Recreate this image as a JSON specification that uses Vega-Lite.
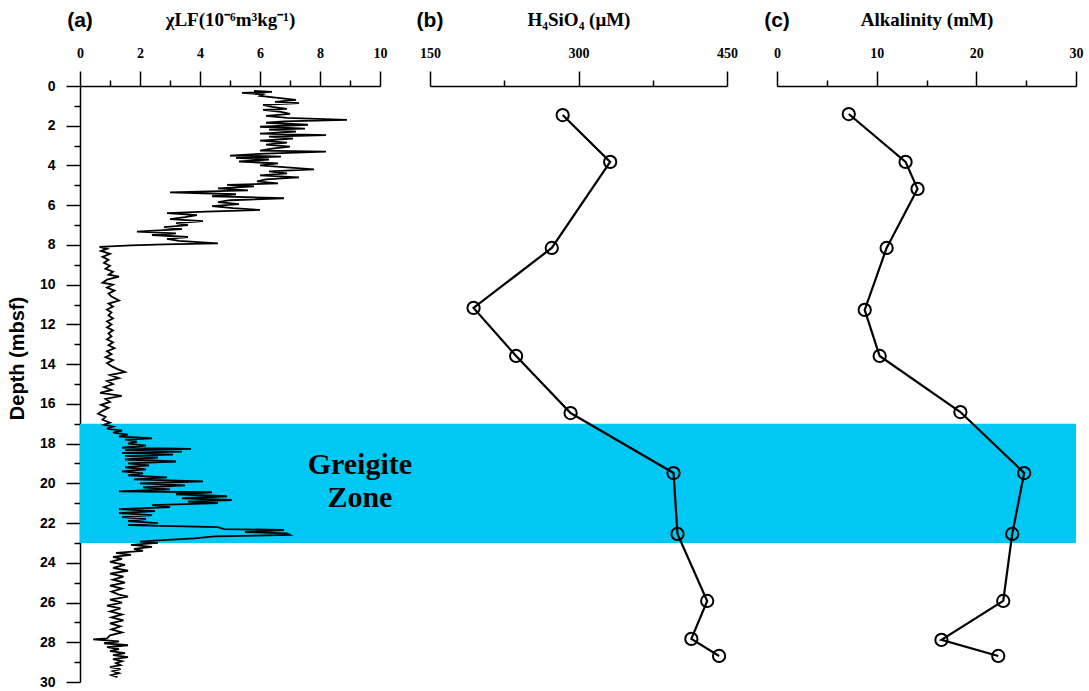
{
  "$schema": "https://vega.github.io/schema/vega-lite/v6.json",
  "autosize": {"type": "none"},
  "padding": {"left": 80, "top": 86, "right": 13, "bottom": 9},
  "width": 996,
  "height": 596,
  "background": "white",
  "config": {
    "view": {"stroke": null},
    "axisX": {"domainColor": "black", "domainWidth": 1.5, "tickColor": "black", "tickWidth": 1.5, "labelFont": "Liberation Serif", "labelFontWeight": "bold", "labelFontSize": 14, "labelColor": "black", "titleFont": "Liberation Serif", "titleFontWeight": "bold", "titleFontSize": 19, "titleColor": "black", "grid": false, "labelPadding": 11, "titlePadding": 17, "labelFlush": false, "labelOverlap": false},
    "axisY": {"domainColor": "black", "domainWidth": 1.5, "tickColor": "black", "tickWidth": 1.5, "labelFont": "Liberation Sans", "labelFontWeight": "bold", "labelFontSize": 14, "labelColor": "black", "titleFont": "Liberation Sans", "titleFontWeight": "bold", "titleFontSize": 20, "titleColor": "black", "grid": false, "labelPadding": 11, "titlePadding": 12, "labelOverlap": false, "labelFlush": false}
  },
  "datasets": {
    "chi": [
      {"depth":0.25,"chi":5.8},{"depth":0.3,"chi":6.4},{"depth":0.35,"chi":5.4},{"depth":0.42,"chi":6.1},{"depth":0.5,"chi":6.0},{"depth":0.6,"chi":6.6},{"depth":0.7,"chi":7.2},{"depth":0.8,"chi":6.5},{"depth":0.86,"chi":7.3},{"depth":0.95,"chi":6.1},
      {"depth":1.05,"chi":6.4},{"depth":1.15,"chi":6.9},{"depth":1.2,"chi":6.1},{"depth":1.3,"chi":6.7},{"depth":1.4,"chi":7.0},{"depth":1.5,"chi":6.2},{"depth":1.6,"chi":6.9},{"depth":1.71,"chi":8.9},{"depth":1.78,"chi":6.8},{"depth":1.85,"chi":6.2},
      {"depth":1.95,"chi":7.6},{"depth":2.05,"chi":6.0},{"depth":2.15,"chi":7.5},{"depth":2.2,"chi":6.3},{"depth":2.3,"chi":7.2},{"depth":2.4,"chi":6.0},{"depth":2.47,"chi":8.2},{"depth":2.55,"chi":6.3},{"depth":2.65,"chi":7.1},{"depth":2.75,"chi":6.0},
      {"depth":2.85,"chi":6.9},{"depth":2.95,"chi":6.2},{"depth":3.05,"chi":7.0},{"depth":3.15,"chi":6.4},{"depth":3.25,"chi":6.0},{"depth":3.3,"chi":8.2},{"depth":3.4,"chi":6.2},{"depth":3.5,"chi":5.0},{"depth":3.55,"chi":6.7},{"depth":3.62,"chi":5.2},
      {"depth":3.7,"chi":6.3},{"depth":3.8,"chi":5.3},{"depth":3.9,"chi":6.6},{"depth":4.0,"chi":6.0},{"depth":4.1,"chi":6.9},{"depth":4.2,"chi":7.8},{"depth":4.3,"chi":6.3},{"depth":4.4,"chi":6.9},{"depth":4.5,"chi":6.0},{"depth":4.6,"chi":7.3},
      {"depth":4.7,"chi":6.2},{"depth":4.8,"chi":5.9},{"depth":4.9,"chi":6.6},{"depth":4.98,"chi":4.9},{"depth":5.05,"chi":5.8},{"depth":5.15,"chi":4.6},{"depth":5.25,"chi":5.6},{"depth":5.35,"chi":3.0},{"depth":5.45,"chi":5.2},{"depth":5.55,"chi":4.4},
      {"depth":5.65,"chi":6.8},{"depth":5.75,"chi":5.0},{"depth":5.85,"chi":4.6},{"depth":5.95,"chi":5.3},{"depth":6.05,"chi":4.4},{"depth":6.15,"chi":5.1},{"depth":6.24,"chi":6.0},{"depth":6.32,"chi":4.2},{"depth":6.4,"chi":2.9},{"depth":6.5,"chi":3.9},
      {"depth":6.6,"chi":3.5},{"depth":6.7,"chi":3.0},{"depth":6.8,"chi":4.1},{"depth":6.9,"chi":3.2},{"depth":7.0,"chi":3.6},{"depth":7.1,"chi":2.8},{"depth":7.2,"chi":3.4},{"depth":7.33,"chi":1.9},{"depth":7.42,"chi":3.2},{"depth":7.5,"chi":2.4},
      {"depth":7.6,"chi":3.6},{"depth":7.7,"chi":2.9},{"depth":7.8,"chi":3.3},{"depth":7.92,"chi":4.6},{"depth":7.97,"chi":2.8},{"depth":8.02,"chi":1.7},{"depth":8.1,"chi":0.65},{"depth":8.2,"chi":0.9},
      {"depth":8.3,"chi":0.7},{"depth":8.45,"chi":1.0},{"depth":8.6,"chi":0.75},{"depth":8.75,"chi":0.95},{"depth":8.9,"chi":0.8},{"depth":9.05,"chi":1.0},{"depth":9.2,"chi":0.85},{"depth":9.35,"chi":1.1},{"depth":9.5,"chi":0.95},{"depth":9.6,"chi":1.3},
      {"depth":9.75,"chi":0.9},{"depth":9.9,"chi":0.75},{"depth":10.0,"chi":1.1},{"depth":10.15,"chi":0.9},{"depth":10.3,"chi":1.15},{"depth":10.45,"chi":0.95},{"depth":10.6,"chi":1.05},{"depth":10.8,"chi":1.3},{"depth":10.95,"chi":0.95},{"depth":11.1,"chi":1.1},
      {"depth":11.25,"chi":0.9},{"depth":11.4,"chi":1.05},{"depth":11.55,"chi":0.95},{"depth":11.7,"chi":1.1},{"depth":11.85,"chi":0.9},{"depth":12.0,"chi":1.05},{"depth":12.15,"chi":0.9},{"depth":12.3,"chi":1.1},{"depth":12.45,"chi":0.95},{"depth":12.6,"chi":1.05},
      {"depth":12.75,"chi":0.9},{"depth":12.9,"chi":1.1},{"depth":13.05,"chi":0.95},{"depth":13.2,"chi":1.15},{"depth":13.35,"chi":0.9},{"depth":13.5,"chi":1.05},{"depth":13.65,"chi":0.85},{"depth":13.8,"chi":1.1},{"depth":13.95,"chi":0.9},{"depth":14.1,"chi":1.05},
      {"depth":14.25,"chi":1.25},{"depth":14.4,"chi":1.5},{"depth":14.55,"chi":1.0},{"depth":14.7,"chi":1.3},{"depth":14.85,"chi":0.9},{"depth":15.0,"chi":1.1},{"depth":15.15,"chi":0.8},{"depth":15.3,"chi":1.05},{"depth":15.45,"chi":0.67},{"depth":15.6,"chi":1.39},
      {"depth":15.75,"chi":0.85},{"depth":15.9,"chi":1.0},{"depth":16.05,"chi":0.7},{"depth":16.2,"chi":0.95},{"depth":16.35,"chi":0.75},{"depth":16.5,"chi":0.6},{"depth":16.65,"chi":0.85},{"depth":16.8,"chi":0.75},{"depth":16.95,"chi":1.0},
      {"depth":17.05,"chi":0.8},{"depth":17.15,"chi":1.1},{"depth":17.25,"chi":0.9},{"depth":17.35,"chi":1.4},{"depth":17.45,"chi":1.1},{"depth":17.55,"chi":1.6},{"depth":17.65,"chi":1.3},{"depth":17.73,"chi":2.4},{"depth":17.8,"chi":1.5},{"depth":17.9,"chi":1.9},
      {"depth":18.0,"chi":1.6},{"depth":18.1,"chi":2.2},{"depth":18.2,"chi":1.4},{"depth":18.27,"chi":3.7},{"depth":18.33,"chi":1.5},{"depth":18.4,"chi":3.4},{"depth":18.47,"chi":1.4},{"depth":18.55,"chi":3.1},{"depth":18.62,"chi":1.5},{"depth":18.7,"chi":2.6},
      {"depth":18.8,"chi":1.5},{"depth":18.9,"chi":3.2},{"depth":19.0,"chi":1.6},{"depth":19.1,"chi":2.3},{"depth":19.2,"chi":1.5},{"depth":19.3,"chi":2.2},{"depth":19.4,"chi":1.4},{"depth":19.5,"chi":2.1},{"depth":19.6,"chi":1.6},{"depth":19.7,"chi":2.9},
      {"depth":19.8,"chi":1.8},{"depth":19.9,"chi":4.1},{"depth":20.0,"chi":2.0},{"depth":20.1,"chi":3.5},{"depth":20.2,"chi":2.1},{"depth":20.3,"chi":3.0},{"depth":20.4,"chi":1.3},{"depth":20.45,"chi":4.4},{"depth":20.55,"chi":3.2},{"depth":20.65,"chi":4.9},
      {"depth":20.75,"chi":3.4},{"depth":20.84,"chi":5.06},{"depth":20.92,"chi":3.6},{"depth":21.0,"chi":4.6},{"depth":21.1,"chi":2.4},{"depth":21.2,"chi":3.0},{"depth":21.3,"chi":1.3},{"depth":21.4,"chi":2.5},{"depth":21.5,"chi":1.3},{"depth":21.6,"chi":2.4},
      {"depth":21.7,"chi":1.4},{"depth":21.8,"chi":2.2},{"depth":21.9,"chi":1.6},{"depth":22.0,"chi":2.6},{"depth":22.1,"chi":1.6},{"depth":22.2,"chi":4.6},{"depth":22.3,"chi":4.8},{"depth":22.35,"chi":6.8},{"depth":22.45,"chi":5.5},{"depth":22.52,"chi":6.9},
      {"depth":22.6,"chi":7.0},{"depth":22.67,"chi":4.5},{"depth":22.77,"chi":3.8},{"depth":22.85,"chi":2.9},{"depth":22.93,"chi":2.0},{"depth":23.0,"chi":2.6},{"depth":23.1,"chi":1.7},{"depth":23.2,"chi":2.4},{"depth":23.3,"chi":1.8},{"depth":23.4,"chi":2.1},
      {"depth":23.5,"chi":1.2},{"depth":23.6,"chi":1.7},{"depth":23.7,"chi":1.1},{"depth":23.8,"chi":1.4},
      {"depth":23.95,"chi":1.0},{"depth":24.1,"chi":1.5},{"depth":24.25,"chi":1.1},{"depth":24.4,"chi":1.6},{"depth":24.55,"chi":1.0},{"depth":24.7,"chi":1.45},{"depth":24.85,"chi":1.1},{"depth":25.0,"chi":1.5},{"depth":25.15,"chi":1.0},{"depth":25.3,"chi":1.4},
      {"depth":25.45,"chi":1.05},{"depth":25.6,"chi":1.3},{"depth":25.7,"chi":1.6},{"depth":25.85,"chi":1.0},{"depth":26.0,"chi":1.4},{"depth":26.15,"chi":0.9},{"depth":26.3,"chi":1.35},{"depth":26.45,"chi":1.0},{"depth":26.6,"chi":1.4},{"depth":26.75,"chi":1.05},
      {"depth":26.9,"chi":1.45},{"depth":27.05,"chi":1.0},{"depth":27.2,"chi":1.35},{"depth":27.35,"chi":1.05},{"depth":27.5,"chi":1.4},{"depth":27.65,"chi":1.0},{"depth":27.8,"chi":0.9},{"depth":27.85,"chi":0.44},{"depth":27.95,"chi":1.3},{"depth":28.05,"chi":0.8},
      {"depth":28.15,"chi":1.6},{"depth":28.25,"chi":0.9},{"depth":28.35,"chi":1.3},{"depth":28.45,"chi":1.0},{"depth":28.55,"chi":1.5},{"depth":28.65,"chi":1.1},{"depth":28.75,"chi":1.6},{"depth":28.85,"chi":1.1},{"depth":28.95,"chi":1.4},{"depth":29.05,"chi":1.2},
      {"depth":29.15,"chi":1.35},{"depth":29.25,"chi":1.0},{"depth":29.35,"chi":1.35},{"depth":29.45,"chi":1.1},{"depth":29.55,"chi":1.3},{"depth":29.65,"chi":1.05},{"depth":29.75,"chi":1.25}
    ],
    "si": [
      {"depth":1.46,"si":284},{"depth":3.82,"si":332},{"depth":8.15,"si":273},{"depth":11.17,"si":194},{"depth":13.59,"si":237},{"depth":16.46,"si":292},{"depth":19.48,"si":396},{"depth":22.55,"si":400},{"depth":25.92,"si":430},{"depth":27.83,"si":414},{"depth":28.69,"si":442}
    ],
    "alk": [
      {"depth":1.41,"alk":7.2},{"depth":3.82,"alk":12.9},{"depth":5.18,"alk":14.1},{"depth":8.15,"alk":11.0},{"depth":11.27,"alk":8.8},{"depth":13.59,"alk":10.3},{"depth":16.41,"alk":18.4},{"depth":19.48,"alk":24.8},{"depth":22.55,"alk":23.6},{"depth":25.92,"alk":22.7},{"depth":27.88,"alk":16.5},{"depth":28.69,"alk":22.2}
    ],
    "zone": [{"name":"Greigite Zone","top":17,"bottom":23}],
    "one": [{"k": 1}]
  },
  "resolve": {"scale": {"x": "independent"}, "axis": {"x": "independent"}},
  "layer": [
    {
      "data": {"name": "zone"},
      "mark": {"type": "rect", "color": "#00c8f5"},
      "encoding": {
        "y": {"field": "top", "type": "quantitative", "title": "Depth (mbsf)", "scale": {"domain": [0, 30], "reverse": true, "nice": false, "zero": false},
              "axis": {"title": "Depth (mbsf)", "format": "d", "labelOverlap": false, "titleY": 272, "values": [0,1,2,3,4,5,6,7,8,9,10,11,12,13,14,15,16,17,18,19,20,21,22,23,24,25,26,27,28,29,30], "labelExpr": "datum.value % 2 === 0 ? datum.label : ''", "tickSize": {"condition": {"test": "datum.value % 2 !== 0", "value": 6}, "value": 14}}},
        "y2": {"field": "bottom"}
      }
    },
    {
      "layer": [
        {
          "data": {"name": "chi"},
          "mark": {"type": "line", "color": "black", "strokeWidth": 1.8},
          "encoding": {
            "x": {"field": "chi", "type": "quantitative", "scale": {"domain": [0, 10], "range": [0, 300], "nice": false},
                  "axis": {"orient": "top", "title": "χLF(10⁻⁶m³kg⁻¹)", "format": "d", "labelOverlap": false, "values": [0,1,2,3,4,5,6,7,8,9,10], "labelExpr": "datum.value % 2 === 0 ? datum.label : ''", "tickSize": {"condition": {"test": "datum.value % 2 !== 0", "value": 6}, "value": 15}}},
            "y": {"field": "depth", "type": "quantitative", "title": "Depth (mbsf)",
                  "axis": {"title": "Depth (mbsf)", "format": "d", "labelOverlap": false, "titleY": 272, "values": [0,1,2,3,4,5,6,7,8,9,10,11,12,13,14,15,16,17,18,19,20,21,22,23,24,25,26,27,28,29,30], "labelExpr": "datum.value % 2 === 0 ? datum.label : ''", "tickSize": {"condition": {"test": "datum.value % 2 !== 0", "value": 6}, "value": 14}}},
            "order": {"field": "depth", "type": "quantitative"}
          }
        },
        {
          "data": {"name": "one"},
          "mark": {"type": "text", "text": "(a)", "font": "Liberation Sans", "fontWeight": "bold", "fontSize": 21, "color": "black", "align": "center", "baseline": "middle"},
          "encoding": {"x": {"datum": 0, "type": "quantitative"}, "y": {"datum": -3.25, "type": "quantitative", "title": "Depth (mbsf)",
                  "axis": {"title": "Depth (mbsf)", "format": "d", "labelOverlap": false, "titleY": 272, "values": [0,1,2,3,4,5,6,7,8,9,10,11,12,13,14,15,16,17,18,19,20,21,22,23,24,25,26,27,28,29,30], "labelExpr": "datum.value % 2 === 0 ? datum.label : ''", "tickSize": {"condition": {"test": "datum.value % 2 !== 0", "value": 6}, "value": 14}}}}
        },
        {
          "data": {"name": "one"},
          "mark": {"type": "text", "text": "Greigite", "font": "Liberation Serif", "fontWeight": "bold", "fontSize": 30, "color": "black", "align": "center", "baseline": "middle"},
          "encoding": {"x": {"datum": 9.33, "type": "quantitative"}, "y": {"datum": 19.07, "type": "quantitative", "title": "Depth (mbsf)",
                  "axis": {"title": "Depth (mbsf)", "format": "d", "labelOverlap": false, "titleY": 272, "values": [0,1,2,3,4,5,6,7,8,9,10,11,12,13,14,15,16,17,18,19,20,21,22,23,24,25,26,27,28,29,30], "labelExpr": "datum.value % 2 === 0 ? datum.label : ''", "tickSize": {"condition": {"test": "datum.value % 2 !== 0", "value": 6}, "value": 14}}}}
        },
        {
          "data": {"name": "one"},
          "mark": {"type": "text", "text": "Zone", "font": "Liberation Serif", "fontWeight": "bold", "fontSize": 30, "color": "black", "align": "center", "baseline": "middle"},
          "encoding": {"x": {"datum": 9.33, "type": "quantitative"}, "y": {"datum": 20.73, "type": "quantitative", "title": "Depth (mbsf)",
                  "axis": {"title": "Depth (mbsf)", "format": "d", "labelOverlap": false, "titleY": 272, "values": [0,1,2,3,4,5,6,7,8,9,10,11,12,13,14,15,16,17,18,19,20,21,22,23,24,25,26,27,28,29,30], "labelExpr": "datum.value % 2 === 0 ? datum.label : ''", "tickSize": {"condition": {"test": "datum.value % 2 !== 0", "value": 6}, "value": 14}}}}
        }
      ]
    },
    {
      "layer": [
        {
          "data": {"name": "si"},
          "mark": {"type": "line", "color": "black", "strokeWidth": 2.2},
          "encoding": {
            "x": {"field": "si", "type": "quantitative", "scale": {"domain": [150, 450], "range": [350, 647], "nice": false, "zero": false},
                  "axis": {"orient": "top", "title": "H₄SiO₄ (μM)", "format": "d", "labelOverlap": false, "values": [150,225,300,375,450], "labelExpr": "datum.value % 150 === 0 ? datum.label : ''", "tickSize": {"condition": {"test": "datum.value % 150 !== 0", "value": 6}, "value": 15}}},
            "y": {"field": "depth", "type": "quantitative", "title": "Depth (mbsf)",
                  "axis": {"title": "Depth (mbsf)", "format": "d", "labelOverlap": false, "titleY": 272, "values": [0,1,2,3,4,5,6,7,8,9,10,11,12,13,14,15,16,17,18,19,20,21,22,23,24,25,26,27,28,29,30], "labelExpr": "datum.value % 2 === 0 ? datum.label : ''", "tickSize": {"condition": {"test": "datum.value % 2 !== 0", "value": 6}, "value": 14}}},
            "order": {"field": "depth", "type": "quantitative"}
          }
        },
        {
          "data": {"name": "si"},
          "mark": {"type": "point", "shape": "circle", "filled": false, "color": "black", "opacity": 1, "strokeWidth": 2, "size": 150},
          "encoding": {
            "x": {"field": "si", "type": "quantitative"},
            "y": {"field": "depth", "type": "quantitative", "title": "Depth (mbsf)",
                  "axis": {"title": "Depth (mbsf)", "format": "d", "labelOverlap": false, "titleY": 272, "values": [0,1,2,3,4,5,6,7,8,9,10,11,12,13,14,15,16,17,18,19,20,21,22,23,24,25,26,27,28,29,30], "labelExpr": "datum.value % 2 === 0 ? datum.label : ''", "tickSize": {"condition": {"test": "datum.value % 2 !== 0", "value": 6}, "value": 14}}}
          }
        },
        {
          "data": {"name": "one"},
          "mark": {"type": "text", "text": "(b)", "font": "Liberation Sans", "fontWeight": "bold", "fontSize": 21, "color": "black", "align": "center", "baseline": "middle"},
          "encoding": {"x": {"datum": 150, "type": "quantitative"}, "y": {"datum": -3.25, "type": "quantitative", "title": "Depth (mbsf)",
                  "axis": {"title": "Depth (mbsf)", "format": "d", "labelOverlap": false, "titleY": 272, "values": [0,1,2,3,4,5,6,7,8,9,10,11,12,13,14,15,16,17,18,19,20,21,22,23,24,25,26,27,28,29,30], "labelExpr": "datum.value % 2 === 0 ? datum.label : ''", "tickSize": {"condition": {"test": "datum.value % 2 !== 0", "value": 6}, "value": 14}}}}
        }
      ]
    },
    {
      "layer": [
        {
          "data": {"name": "alk"},
          "mark": {"type": "line", "color": "black", "strokeWidth": 2.2},
          "encoding": {
            "x": {"field": "alk", "type": "quantitative", "scale": {"domain": [0, 30], "range": [697, 996], "nice": false},
                  "axis": {"orient": "top", "title": "Alkalinity (mM)", "format": "d", "labelOverlap": false, "values": [0,5,10,15,20,25,30], "labelExpr": "datum.value % 10 === 0 ? datum.label : ''", "tickSize": {"condition": {"test": "datum.value % 10 !== 0", "value": 6}, "value": 15}}},
            "y": {"field": "depth", "type": "quantitative", "title": "Depth (mbsf)",
                  "axis": {"title": "Depth (mbsf)", "format": "d", "labelOverlap": false, "titleY": 272, "values": [0,1,2,3,4,5,6,7,8,9,10,11,12,13,14,15,16,17,18,19,20,21,22,23,24,25,26,27,28,29,30], "labelExpr": "datum.value % 2 === 0 ? datum.label : ''", "tickSize": {"condition": {"test": "datum.value % 2 !== 0", "value": 6}, "value": 14}}},
            "order": {"field": "depth", "type": "quantitative"}
          }
        },
        {
          "data": {"name": "alk"},
          "mark": {"type": "point", "shape": "circle", "filled": false, "color": "black", "opacity": 1, "strokeWidth": 2, "size": 150},
          "encoding": {
            "x": {"field": "alk", "type": "quantitative"},
            "y": {"field": "depth", "type": "quantitative", "title": "Depth (mbsf)",
                  "axis": {"title": "Depth (mbsf)", "format": "d", "labelOverlap": false, "titleY": 272, "values": [0,1,2,3,4,5,6,7,8,9,10,11,12,13,14,15,16,17,18,19,20,21,22,23,24,25,26,27,28,29,30], "labelExpr": "datum.value % 2 === 0 ? datum.label : ''", "tickSize": {"condition": {"test": "datum.value % 2 !== 0", "value": 6}, "value": 14}}}
          }
        },
        {
          "data": {"name": "one"},
          "mark": {"type": "text", "text": "(c)", "font": "Liberation Sans", "fontWeight": "bold", "fontSize": 21, "color": "black", "align": "center", "baseline": "middle"},
          "encoding": {"x": {"datum": 0, "type": "quantitative"}, "y": {"datum": -3.25, "type": "quantitative", "title": "Depth (mbsf)",
                  "axis": {"title": "Depth (mbsf)", "format": "d", "labelOverlap": false, "titleY": 272, "values": [0,1,2,3,4,5,6,7,8,9,10,11,12,13,14,15,16,17,18,19,20,21,22,23,24,25,26,27,28,29,30], "labelExpr": "datum.value % 2 === 0 ? datum.label : ''", "tickSize": {"condition": {"test": "datum.value % 2 !== 0", "value": 6}, "value": 14}}}}
        }
      ]
    }
  ]
}
